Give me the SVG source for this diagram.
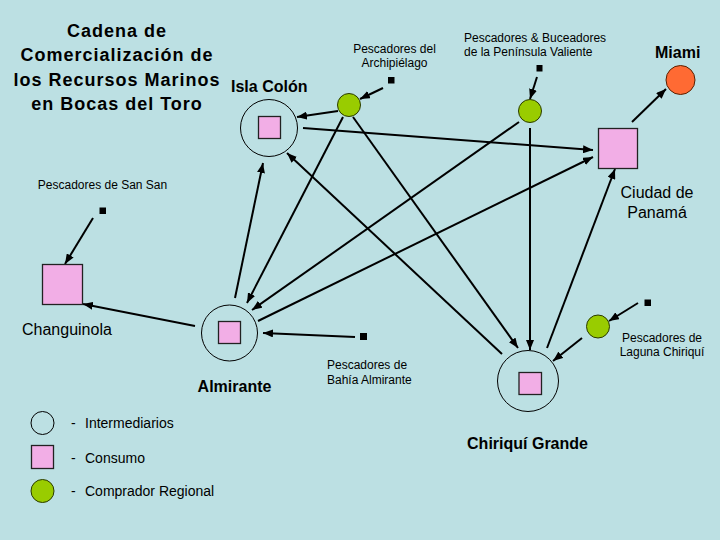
<svg xmlns="http://www.w3.org/2000/svg" width="720" height="540" viewBox="0 0 720 540">
<style>
.t{font-family:"Liberation Sans",Arial,sans-serif;fill:#000}
.title{font-size:18px;font-weight:bold;letter-spacing:1px;text-anchor:middle}
.big{font-size:16px;font-weight:bold}
.lbl{font-size:16px}
.sm{font-size:12px}
.leg{font-size:14px}
.inter{fill:none;stroke:#000;stroke-width:1}
.cons{fill:#F2AEE6;stroke:#222;stroke-width:1.3}
.reg{fill:#99CC00;stroke:#2a3a00;stroke-width:1}
.src{fill:#000}
.c line{stroke:#000;stroke-width:2}
.c line.a{marker-end:url(#ah)}
</style>
<defs>
<marker id="ah" viewBox="0 0 10 8" refX="10" refY="4" markerWidth="10" markerHeight="8" markerUnits="userSpaceOnUse" orient="auto"><path d="M0,0 L10,4 L0,8 z" fill="#000"/></marker>
</defs>
<rect width="720" height="540" fill="#BCE0E3"/>

<g id="title">
<text class="t title" x="117" y="37">Cadena de</text>
<text class="t title" x="117" y="61">Comercialización de</text>
<text class="t title" x="117" y="86">los Recursos Marinos</text>
<text class="t title" x="117" y="110">en Bocas del Toro</text>
</g>

<g class="c" id="connectors">
<line class="a" x1="383" y1="88" x2="360" y2="99"/>
<line class="a" x1="338" y1="111" x2="297" y2="117"/>
<line class="a" x1="537" y1="77" x2="530" y2="99"/>
<line class="a" x1="303" y1="128" x2="593" y2="150"/>
<line class="a" x1="353" y1="117" x2="518" y2="348"/>
<line class="a" x1="343" y1="117" x2="247" y2="303"/>
<line class="a" x1="519" y1="122" x2="252" y2="310"/>
<line class="a" x1="258" y1="321" x2="593" y2="157"/>
<line class="a" x1="355" y1="337" x2="263" y2="333"/>
<line class="a" x1="195" y1="326" x2="83" y2="304"/>
<line class="a" x1="235" y1="298" x2="263" y2="163"/>
<line class="a" x1="502" y1="354" x2="287" y2="153"/>
<line class="a" x1="530" y1="128" x2="530" y2="350"/>
<line class="a" x1="547" y1="348" x2="615" y2="169"/>
<line class="a" x1="638" y1="303" x2="609" y2="321"/>
<line class="a" x1="582" y1="338" x2="553" y2="361"/>
<line class="a" x1="632" y1="122" x2="666" y2="89"/>
<line class="a" x1="93" y1="218" x2="65" y2="264"/>
</g>

<g id="isla-colon">
<circle class="inter" cx="269" cy="128" r="28.5"/>
<rect class="cons" x="258.5" y="116.5" width="22" height="22"/>
<text class="t big" x="231" y="92">Isla Colón</text>
</g>

<g id="archipielago">
<circle class="reg" cx="349" cy="105" r="11.5"/>
<rect class="src" x="388" y="77" width="6.5" height="6.5"/>
<text class="t sm" x="394.5" y="53" text-anchor="middle">Pescadores del</text>
<text class="t sm" x="394.5" y="67" text-anchor="middle">Archipiélago</text>
</g>

<g id="peninsula">
<circle class="reg" cx="530" cy="111" r="11.5"/>
<rect class="src" x="536.5" y="65" width="6" height="6.5"/>
<text class="t sm" x="464" y="42">Pescadores &amp; Buceadores</text>
<text class="t sm" x="464" y="56">de la Península Valiente</text>
</g>

<g id="miami">
<circle cx="680.5" cy="80" r="14.5" fill="#FF6A33" stroke="#5a2000" stroke-width="1"/>
<text class="t big" x="655" y="58">Miami</text>
</g>

<g id="panama">
<rect class="cons" x="598.5" y="128.5" width="39" height="40"/>
<text class="t lbl" x="657" y="198" text-anchor="middle">Ciudad de</text>
<text class="t lbl" x="657" y="218" text-anchor="middle">Panamá</text>
</g>

<g id="san-san">
<rect class="src" x="99.5" y="207.5" width="6.5" height="6.5"/>
<text class="t sm" x="102.5" y="189" text-anchor="middle">Pescadores de San San</text>
</g>

<g id="changuinola">
<rect class="cons" x="42.5" y="264.5" width="40" height="40"/>
<text class="t lbl" x="22" y="335">Changuinola</text>
</g>

<g id="almirante">
<circle class="inter" cx="229.5" cy="333" r="28"/>
<rect class="cons" x="218.5" y="321.5" width="22" height="22"/>
<text class="t big" x="234.5" y="392" text-anchor="middle">Almirante</text>
</g>

<g id="bahia-almirante">
<rect class="src" x="360" y="333" width="7" height="7"/>
<text class="t sm" x="327" y="369">Pescadores de</text>
<text class="t sm" x="327" y="384">Bahía Almirante</text>
</g>

<g id="chiriqui-grande">
<circle class="inter" cx="528" cy="381" r="30.5"/>
<rect class="cons" x="519" y="372.5" width="22.5" height="22"/>
<text class="t big" x="527.5" y="449" text-anchor="middle">Chiriquí Grande</text>
</g>

<g id="laguna-chiriqui">
<circle class="reg" cx="598" cy="326.5" r="11.5"/>
<rect class="src" x="644.5" y="299.5" width="6.5" height="6.5"/>
<text class="t sm" x="662" y="342" text-anchor="middle">Pescadores de</text>
<text class="t sm" x="662" y="356" text-anchor="middle">Laguna Chiriquí</text>
</g>

<g id="legend">
<circle class="inter" cx="42.5" cy="423" r="11.5"/>
<rect class="cons" x="31.5" y="445.5" width="22" height="23"/>
<circle class="reg" cx="42.5" cy="491" r="11.5"/>
<text class="t leg" x="71" y="428">-</text>
<text class="t leg" x="85" y="428">Intermediarios</text>
<text class="t leg" x="71" y="463">-</text>
<text class="t leg" x="85" y="463">Consumo</text>
<text class="t leg" x="71" y="496">-</text>
<text class="t leg" x="85" y="496">Comprador Regional</text>
</g>
</svg>
